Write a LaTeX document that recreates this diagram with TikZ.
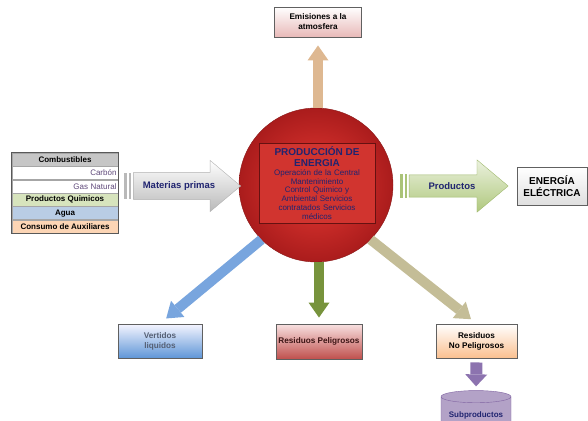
\documentclass[tikz,border=0pt]{standalone}
\usepackage{fontspec}
\setmainfont{Liberation Sans}
\usetikzlibrary{positioning,shapes.arrows,shapes.geometric,arrows.meta}

\definecolor{navy}{RGB}{32,36,112}
\definecolor{lila}{RGB}{96,74,123}
\definecolor{redcore}{RGB}{232,58,52}
\definecolor{rededge}{RGB}{170,28,28}

\begin{document}
\begin{tikzpicture}[x=1pt,y=-1pt,
  row/.style={draw=gray!70, minimum width=106pt, minimum height=13pt, inner sep=0pt, font=\fontsize{8}{9}\selectfont\bfseries},
  box/.style={draw=gray!75!black, line width=0.9pt, align=center, inner sep=2pt, font=\fontsize{8.2}{10}\selectfont\bfseries},
  fatarrow/.style={line width=10pt, -{Triangle[length=15pt,width=21pt,line width=0pt]}},
  stripe/.style={fill=gray!55}
]
\useasboundingbox (0,0) rectangle (588,420);

% Central circle and its box
\node[circle, minimum size=154pt, inner color=redcore, outer color=rededge, draw=rededge!80!black] (circ) at (316,185) {};
\node[draw=rededge!60!black, line width=1pt, fill=redcore!90!black, text=navy, align=center, text width=114pt, minimum height=80pt, inner sep=1pt, font=\fontsize{8}{8.8}\selectfont] (prod) at (317,183)
  {{\fontsize{10}{11}\selectfont\bfseries PRODUCCIÓN DE\\ ENERGIA\par}
   Operación de la Central\\ Mantenimiento\\ Control Quimico y\\ Ambiental Servicios\\ contratados Servicios\\ médicos};

% Table of inputs
\node[row, fill=gray!45] (comb) at (65,159.5) {Combustibles};
\node[row, fill=white, below=0pt of comb, text width=103pt, align=right, text=lila, font=\fontsize{8}{9}\selectfont] (carb) {Carbón};
\node[row, fill=white, below=0pt of carb, text width=103pt, align=right, text=lila, font=\fontsize{8}{9}\selectfont] (gas) {Gas Natural};
\node[row, fill={rgb,255:red,215;green,228;blue,189}, below=0pt of gas] (quim) {Productos Quimicos};
\node[row, fill={rgb,255:red,185;green,205;blue,229}, below=0pt of quim] (agua) {Agua};
\node[row, fill={rgb,255:red,252;green,213;blue,181}, below=0pt of agua] (aux) {Consumo de Auxiliares};
\draw[gray!70!black, line width=1.2pt] (comb.north west) rectangle (aux.south east);

% Materias primas arrow
\fill[stripe] (124,173) rectangle (126.5,199);
\fill[stripe] (128.5,173) rectangle (131,199);
\node[single arrow, single arrow head extend=12pt, single arrow tip angle=80, minimum height=107pt, inner ysep=9pt,
  top color=white, bottom color=gray!55, draw=gray!60, text=navy, font=\fontsize{9.5}{10}\selectfont\bfseries] (mat) at (179,186) {Materias primas\hspace{24pt}};

% Productos arrow
\fill[stripe, fill={rgb,255:red,170;green,195;blue,120}] (400,174) rectangle (402.5,198);
\fill[stripe, fill={rgb,255:red,170;green,195;blue,120}] (404.5,174) rectangle (407,198);
\node[single arrow, single arrow head extend=15pt, single arrow tip angle=80, minimum height=99pt, inner ysep=7.5pt,
  top color={rgb,255:red,235;green,241;blue,222}, bottom color={rgb,255:red,175;green,200;blue,125}, draw={rgb,255:red,160;green,185;blue,110},
  text=navy, font=\fontsize{9.5}{10}\selectfont\bfseries] (prodarr) at (452,186) {Productos\hspace{20pt}};

\node[box, minimum width=70pt, minimum height=38pt, top color=white, bottom color=gray!25, font=\fontsize{10}{12}\selectfont\bfseries] (elec) at (552,186) {ENERGÍA\\ ELÉCTRICA};

% Outputs
\node[box, minimum width=87pt, minimum height=30pt, top color=white, bottom color={rgb,255:red,232;green,185;blue,184}] (emis) at (318,22) {Emisiones a la\\ atmosfera};
\node[box, minimum width=84pt, minimum height=34pt, top color=blue!4, bottom color={rgb,255:red,95;green,150;blue,215}, text={rgb,255:red,85;green,95;blue,115}] (vert) at (160,341) {Vertidos\\ liquidos};
\node[box, minimum width=86pt, minimum height=35pt, top color={rgb,255:red,248;green,225;blue,225}, bottom color={rgb,255:red,192;green,80;blue,77}, text={rgb,255:red,60;green,20;blue,20}] (resp) at (319,341.5) {Residuos Peligrosos};
\node[box, minimum width=81pt, minimum height=34pt, top color=white, bottom color={rgb,255:red,250;green,192;blue,144}] (resnp) at (476.5,341) {Residuos\\ No Peligrosos};
\node[cylinder, shape border rotate=90, aspect=0.2, minimum width=70pt, minimum height=40pt, draw={rgb,255:red,128;green,100;blue,162},
  fill={rgb,255:red,179;green,162;blue,199}, text=navy, font=\fontsize{8}{9}\selectfont\bfseries] (subp) at (476,415) {Subproductos};

% Connectors
\draw[fatarrow, color={rgb,255:red,222;green,184;blue,145}, shorten >=8pt] (circ.north -| emis.south) -- (emis.south);
\draw[fatarrow, color={rgb,255:red,120;green,165;blue,222}, shorten >=8pt] (circ.225) -- (vert.north);
\draw[fatarrow, color={rgb,255:red,119;green,147;blue,60}, shorten >=6pt] (circ.south -| resp.north) -- (resp.north);
\draw[fatarrow, color={rgb,255:red,196;green,189;blue,151}, shorten >=7pt] (circ.-45) -- (resnp.north);
\draw[fatarrow, line width=12pt, -{Triangle[length=12pt,width=22pt,line width=0pt]}, color={rgb,255:red,140;green,115;blue,175}, shorten <=4pt, shorten >=4pt] (resnp.south) -- (subp.north);
\end{tikzpicture}
\end{document}
